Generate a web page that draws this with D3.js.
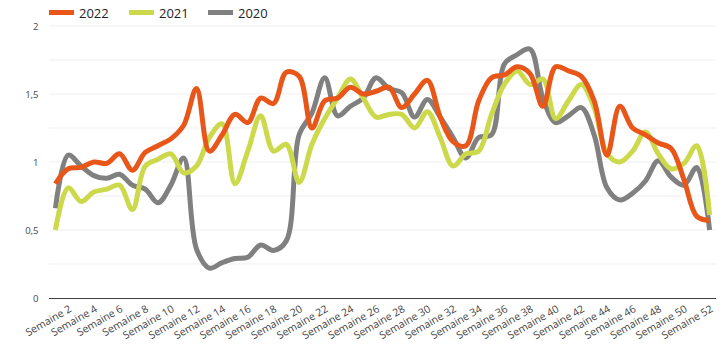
<!DOCTYPE html>
<html>
<head>
<meta charset="utf-8">
<script src="https://cdn.jsdelivr.net/npm/d3@7/dist/d3.min.js"></script>
<style>
  html, body { margin: 0; padding: 0; background: #fff; }
  svg { display: block; font-family: "Open Sans", sans-serif; }
</style>
</head>
<body>
<svg id="chart" width="725" height="349"></svg>
<script>
const weeks = d3.range(1, 53).map(i => "Semaine " + i);
const tickLabels = d3.range(2, 53, 2).map(i => "Semaine " + i);
const yTicks = [0, 0.5, 1, 1.5, 2];
const gridValues = [0.25, 0.5, 0.75, 1, 1.25, 1.5, 1.75, 2];

const series2022 = [0.84, 0.95, 0.96, 1.0, 0.99, 1.06, 0.94, 1.07, 1.12, 1.17, 1.27, 1.54, 1.08, 1.2, 1.35, 1.29, 1.47, 1.43, 1.66, 1.63, 1.25, 1.45, 1.47, 1.55, 1.5, 1.52, 1.55, 1.4, 1.5, 1.6, 1.33, 1.15, 1.12, 1.45, 1.62, 1.64, 1.7, 1.65, 1.41, 1.7, 1.67, 1.63, 1.45, 1.05, 1.41, 1.25, 1.2, 1.14, 1.1, 0.87, 0.6, 0.57];
const series2021 = [0.5, 0.81, 0.71, 0.78, 0.8, 0.83, 0.65, 0.97, 1.02, 1.06, 0.92, 0.97, 1.18, 1.28, 0.84, 1.08, 1.34, 1.08, 1.13, 0.85, 1.13, 1.32, 1.47, 1.61, 1.47, 1.33, 1.35, 1.35, 1.25, 1.37, 1.18, 0.97, 1.06, 1.08, 1.35, 1.57, 1.67, 1.57, 1.61, 1.32, 1.45, 1.57, 1.4, 1.06, 1.0, 1.08, 1.22, 1.06, 0.95, 0.99, 1.12, 0.61];
const series2020 = [0.66, 1.05, 0.97, 0.9, 0.88, 0.91, 0.83, 0.8, 0.7, 0.83, 1.03, 0.36, 0.22, 0.26, 0.29, 0.3, 0.39, 0.35, 0.42, 1.2, 1.36, 1.62, 1.34, 1.41, 1.47, 1.62, 1.54, 1.51, 1.33, 1.46, 1.33, 1.18, 1.03, 1.18, 1.2, 1.72, 1.79, 1.83, 1.47, 1.29, 1.34, 1.4, 1.2, 0.81, 0.72, 0.77, 0.86, 1.01, 0.89, 0.83, 0.96, 0.5];

const seriesNames = ["2022", "2021", "2020"];
const seriesColors = ["#E8561A", "#CBD94A", "#808080"];
const seriesData = [series2022, series2021, series2020];

const svg = d3.select("#chart");
const plotLeft = 49, plotRight = 716, plotTop = 26, plotBottom = 298;

const x = d3.scaleBand().domain(weeks).range([plotLeft, plotRight]).padding(0);
const y = d3.scaleLinear().domain([0, 2]).range([plotBottom, plotTop]);

// gridlines
svg.append("g").selectAll("line").data(gridValues).join("line")
  .attr("x1", plotLeft).attr("x2", plotRight)
  .attr("y1", d => y(d)).attr("y2", d => y(d))
  .attr("stroke", "#efefef").attr("stroke-width", 1);

// y axis labels
const yAxis = d3.axisLeft(y).tickValues(yTicks).tickSize(0).tickPadding(0)
  .tickFormat(d => d3.format("")(d).replace(".", ","));
const gy = svg.append("g").attr("transform", `translate(38.5,0)`).call(yAxis);
gy.select(".domain").remove();
gy.selectAll("text").attr("fill", "#444").attr("font-size", 9.5)
  .attr("font-family", "'Open Sans', sans-serif");

// lines
const line = d3.line()
  .x((d, i) => x(weeks[i]) + x.bandwidth() / 2)
  .y(d => y(d))
  .curve(d3.curveCatmullRom.alpha(0.5));

seriesData.slice().reverse().forEach((s, k) => {
  const idx = seriesData.length - 1 - k;
  svg.append("path").datum(s)
    .attr("d", line)
    .attr("fill", "none")
    .attr("stroke", seriesColors[idx])
    .attr("stroke-width", 5)
    .attr("stroke-linejoin", "round")
    .attr("stroke-linecap", "butt");
});

// x axis
const xAxis = d3.axisBottom(x).tickValues(tickLabels).tickSize(0).tickPadding(0);
const gx = svg.append("g").attr("transform", `translate(0,${plotBottom})`).call(xAxis);
gx.select(".domain").attr("stroke", "#404040").attr("stroke-width", 1.2)
  .attr("d", `M${plotLeft},0.5H${plotRight}`);
gx.selectAll("text")
  .attr("fill", "#444")
  .attr("font-size", 10.5)
  .attr("font-family", "'Open Sans', sans-serif")
  .attr("text-anchor", "end")
  .attr("dy", "0")
  .attr("y", 0)
  .attr("transform", "translate(4,13) rotate(-30)");

// legend
const legendX = [49, 129, 208];
const lg = svg.append("g");
seriesNames.forEach((n, i) => {
  lg.append("line")
    .attr("x1", legendX[i]).attr("x2", legendX[i] + 25)
    .attr("y1", 12.5).attr("y2", 12.5)
    .attr("stroke", seriesColors[i]).attr("stroke-width", 5);
  lg.append("text")
    .attr("x", legendX[i] + 30).attr("y", 17.5)
    .attr("font-size", 13)
    .attr("fill", "#222")
    .attr("font-family", "'Open Sans', sans-serif")
    .text(n);
});
</script>
</body>
</html>
